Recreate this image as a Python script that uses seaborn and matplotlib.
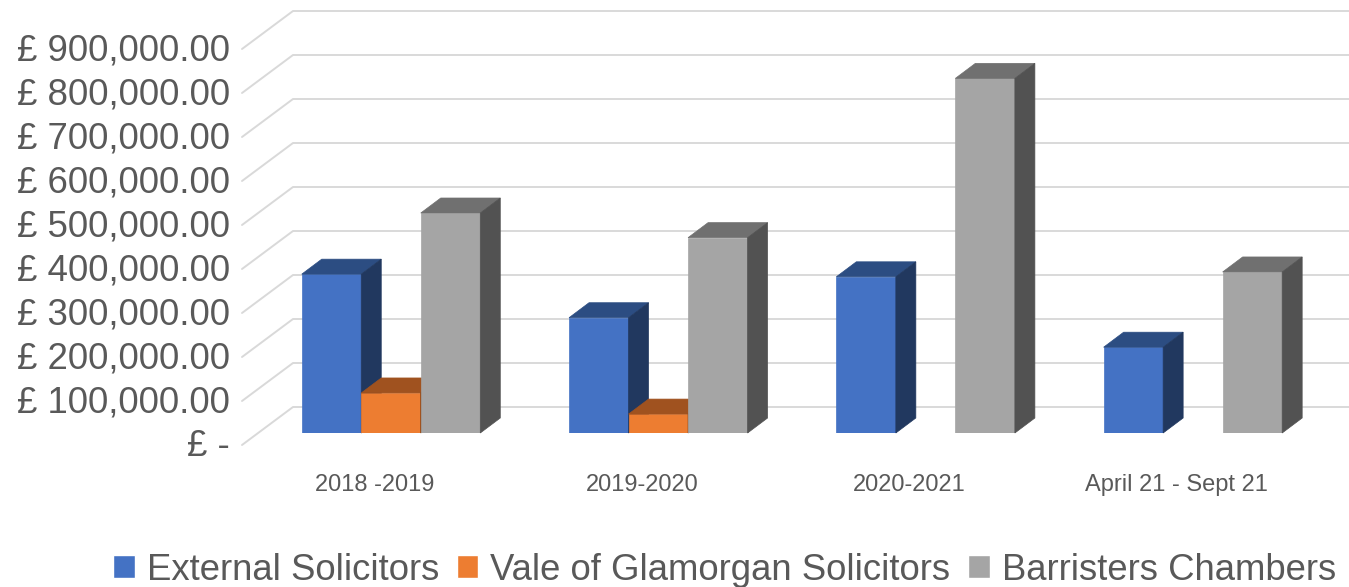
import numpy as np
import pandas as pd
import matplotlib
matplotlib.use('Agg')
import matplotlib.pyplot as plt
import matplotlib.colors as mcolors
from matplotlib.patches import Polygon, Patch
import seaborn as sns

# data
periods = ['2018 -2019', '2019-2020', '2020-2021', 'April 21 - Sept 21']
series = ['External Solicitors', 'Vale of Glamorgan Solicitors', 'Barristers Chambers']
external = [361000, 262000, 355000, 195000]
vale = [91000, 43000, np.nan, np.nan]
barristers = [500000, 444000, 806000, 366000]
y_ticks = np.arange(0, 900001, 100000)

front_col = {'External Solicitors': '#4472c4',
             'Vale of Glamorgan Solicitors': '#ed7d31',
             'Barristers Chambers': '#a5a5a5'}
top_col = {'#4472c4': '#2c4d82', '#ed7d31': '#a0521f', '#a5a5a5': '#707070'}
side_col = {'#4472c4': '#21385f', '#ed7d31': '#7d3f17', '#a5a5a5': '#525252'}
text_col = '#595959'
grid_col = '#d9d9d9'

df = pd.DataFrame({
    'Period': periods * 3,
    'Series': np.repeat(series, len(periods)),
    'Cost': external + vale + barristers,
})

sns.set_style('white')
plt.rcParams['font.family'] = ['Liberation Sans', 'DejaVu Sans']

W, H = 1349, 587
fig = plt.figure(figsize=(W / 100, H / 100), dpi=100)
ax = fig.add_axes([258 / W, 154 / H, (W - 258) / W, 396 / H])

sns.barplot(data=df, x='Period', y='Cost', hue='Series', order=periods,
            hue_order=series, palette=front_col, width=0.668, saturation=1,
            errorbar=None, ax=ax)
if ax.get_legend() is not None:
    ax.get_legend().remove()

ax.set_xlim(-0.4976, 3.584)
ax.set_ylim(0, 900000)
ax.set_axis_off()

# pixel -> data scale, for the fake depth
p0 = ax.transData.transform((0, 0))
p1 = ax.transData.transform((1, 100000))
ux = p1[0] - p0[0]
uy = (p1[1] - p0[1]) / 100000
x0, x1 = ax.get_xlim()

# gridlines: front edge -> diagonal -> back wall
for v in y_ticks:
    ax.plot([x0 - 16 / ux, x0 + 35 / ux, x1],
            [v - 12 / uy, v + 26 / uy, v + 26 / uy],
            color=grid_col, lw=1.4, zorder=0.5, clip_on=False)
    lab = '£ -' if v == 0 else f'£ {v:,.2f}'
    ax.text(x0 - 28 / ux, v - 14 / uy, lab, ha='right', va='center',
            fontsize=26.4, color=text_col, clip_on=False)

for i, lab in enumerate(periods):
    ax.text(i - 16 / ux, -52 / uy, lab, ha='center', va='center',
            fontsize=17, color=text_col, clip_on=False)

# 3d faces on each bar
bars = [p for p in ax.patches if np.isfinite(p.get_height()) and p.get_height() > 0]
bars = sorted(bars, key=lambda p: p.get_x())
ddx, ddy = 20 / ux, 15 / uy
for i, p in enumerate(bars):
    x, w, h = p.get_x(), p.get_width(), p.get_height()
    c = mcolors.to_hex(p.get_facecolor())
    z = 2 + 3 * i
    p.set_zorder(z)
    p.set_edgecolor(c)
    p.set_linewidth(0.5)
    top = [(x, h), (x + w, h), (x + w + ddx, h + ddy), (x + ddx, h + ddy)]
    side = [(x + w, 0), (x + w, h), (x + w + ddx, h + ddy), (x + w + ddx, ddy)]
    ax.add_patch(Polygon(top, closed=True, facecolor=top_col[c], edgecolor=top_col[c],
                         lw=0.5, zorder=z + 1, clip_on=False))
    ax.add_patch(Polygon(side, closed=True, facecolor=side_col[c], edgecolor=side_col[c],
                         lw=0.5, zorder=z + 1, clip_on=False))

handles = [Patch(facecolor=front_col[s]) for s in series]
fig.legend(handles, series, loc='center left', bbox_to_anchor=(113 / W, 17 / H),
           ncol=3, frameon=False, fontsize=26.3, handlelength=0.6, handleheight=0.6,
           handletextpad=0.33, columnspacing=0.47, borderpad=0, borderaxespad=0,
           labelcolor=text_col)

fig.savefig('out.png', dpi=100)
